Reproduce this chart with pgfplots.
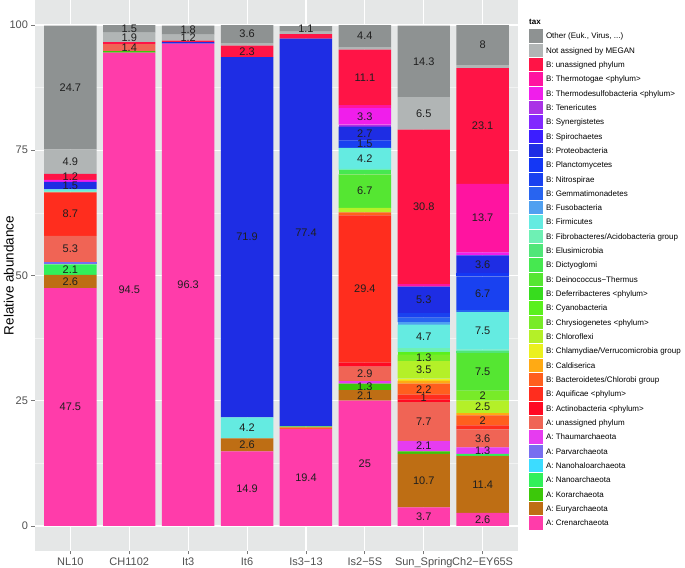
\documentclass[border=0pt]{standalone}
\usepackage{fontspec}
\setmainfont{Liberation Sans}
\usepackage{pgfplots}
\usepackage{pgfplotstable}
\pgfplotsset{compat=1.18}

\definecolor{panelbg}{RGB}{229,231,231}
\definecolor{minorgrid}{RGB}{242,243,243}
\definecolor{tickgray}{RGB}{120,120,120}
\definecolor{ticktext}{RGB}{80,80,80}
\definecolor{cOther}{RGB}{142,146,146}
\definecolor{cNotAss}{RGB}{177,181,181}
\definecolor{cBunas}{RGB}{255,20,70}
\definecolor{cThtoga}{RGB}{255,20,160}
\definecolor{cThdes}{RGB}{240,30,235}
\definecolor{cTener}{RGB}{170,50,230}
\definecolor{cSynerg}{RGB}{130,40,255}
\definecolor{cSpiro}{RGB}{60,30,255}
\definecolor{cProteo}{RGB}{30,45,228}
\definecolor{cPlancto}{RGB}{20,55,245}
\definecolor{cNitro}{RGB}{25,65,240}
\definecolor{cGemma}{RGB}{40,100,240}
\definecolor{cFuso}{RGB}{80,160,240}
\definecolor{cFirmi}{RGB}{100,235,225}
\definecolor{cFibro}{RGB}{110,240,180}
\definecolor{cElusi}{RGB}{80,230,120}
\definecolor{cDicty}{RGB}{70,232,80}
\definecolor{cDeino}{RGB}{85,230,50}
\definecolor{cDeferr}{RGB}{55,220,30}
\definecolor{cCyano}{RGB}{90,240,30}
\definecolor{cChrysio}{RGB}{120,235,40}
\definecolor{cChlorof}{RGB}{180,240,40}
\definecolor{cChlam}{RGB}{235,240,30}
\definecolor{cCaldis}{RGB}{255,170,20}
\definecolor{cBacter}{RGB}{255,95,30}
\definecolor{cAquif}{RGB}{255,45,30}
\definecolor{cActino}{RGB}{255,10,35}
\definecolor{cAunas}{RGB}{240,100,85}
\definecolor{cThaum}{RGB}{230,60,240}
\definecolor{cParv}{RGB}{120,110,240}
\definecolor{cNanoh}{RGB}{60,220,255}
\definecolor{cNano}{RGB}{50,240,90}
\definecolor{cKor}{RGB}{60,200,10}
\definecolor{cEury}{RGB}{190,110,20}
\definecolor{cCren}{RGB}{255,60,170}

% rows = taxa, columns = samples (NL10, CH1102, It3, It6, Is3-13, Is2-5S, Sun_Spring, Ch2-EY65S)
\pgfplotstableread{
tax NL10 CH1102 It3 It6 Is313 Is25S Sun Ch2
s 1 2 3 4 5 6 7 8
Cren 47.5 94.5 96.3 14.9 19.4 25 3.7 2.6
Eury 2.6 0 0 2.6 0 2.1 10.7 11.4
Kor 0 0.3 0 0 0 1.3 0.5 0
Nano 2.1 0 0 0 0 0 0 0.4
Nanoh 0 0 0 0 0 0 0 0
Parv 0.4 0 0 0 0 0 0 0
Thaum 0 0 0 0 0 0.5 2.1 1.3
Aunas 5.3 1.4 0 0 0 2.9 7.7 3.6
Actino 0 0 0 0 0 0.8 0.5 0
Aquif 8.7 0 0 0 0 29.4 1.0 0.8
Bacter 0 0 0 0 0.3 0.6 2.2 2.0
Caldis 0 0 0 0 0 0 0.6 0.4
Chlam 0 0 0 0 0 0 0.4 0
Chlorof 0 0 0 0 0 0.9 3.5 2.5
Chrysio 0 0 0 0 0 0 1.3 2.0
Cyano 0 0 0 0 0 0 0.5 0
Deferr 0 0 0 0 0 0 0 0
Deino 0 0 0 0 0.2 6.7 0 7.5
Dicty 0 0 0 0 0 0.8 0 0
Elusi 0 0 0 0 0 0 0 0.4
Fibro 0.2 0 0 0 0 0.3 0.8 0.3
Firmi 0.4 0 0 4.2 0 4.2 4.7 7.5
Fuso 0 0 0 0 0 0 0.5 0
Gemma 0 0 0 0 0 0 0.9 0.4
Nitro 0 0 0 0 0 1.5 0.9 6.7
Plancto 0 0 0 0 0 0 0 0.6
Proteo 1.5 0 0.3 71.9 77.4 2.7 5.3 3.6
Spiro 0 0 0 0 0 0 0 0
Synerg 0 0 0 0 0 0 0 0
Tener 0 0 0 0 0 0.4 0 0
Thdes 0.4 0 0 0 0 3.3 0 0.6
Thtoga 0 0 0 0 0 0.6 0.5 13.7
Bunas 1.2 0.4 0.3 2.3 0.9 11.1 30.8 23.1
NotAss 4.9 1.9 1.2 0.5 0.5 0.5 6.5 0.6
Other 24.7 1.5 1.8 3.6 1.1 4.4 14.3 8.0
}\raw
\pgfplotstabletranspose[colnames from=tax]{\data}{\raw}

% value labels: sample position, middle of segment, text
\pgfplotstableread{
x y l
1 23.75 47.5
1 48.8 2.6
1 51.15 2.1
1 55.25 5.3
1 62.25 8.7
1 67.95 1.5
1 69.7 1.2
1 72.75 4.9
1 87.55 24.7
2 47.25 94.5
2 95.5 1.4
2 97.55 1.9
2 99.25 1.5
3 48.15 96.3
3 97.5 1.2
3 99.0 1.8
4 7.45 14.9
4 16.2 2.6
4 19.6 4.2
4 57.65 71.9
4 94.75 2.3
4 98.2 3.6
5 9.7 19.4
5 58.6 77.4
5 99.25 1.1
6 12.5 25
6 26.05 2.1
6 27.75 1.3
6 30.35 2.9
6 47.3 29.4
6 66.85 6.7
6 73.4 4.2
6 76.25 1.5
6 78.35 2.7
6 81.75 3.3
6 89.55 11.1
6 97.8 4.4
7 1.85 3.7
7 9.05 10.7
7 15.95 2.1
7 20.85 7.7
7 25.7 1
7 27.3 2.2
7 31.15 3.5
7 33.55 1.3
7 37.85 4.7
7 45.15 5.3
7 63.7 30.8
7 82.35 6.5
7 92.75 14.3
8 1.3 2.6
8 8.3 11.4
8 15.05 1.3
8 17.5 3.6
8 21.1 2
8 23.75 2.5
8 26.0 2
8 30.75 7.5
8 38.95 7.5
8 46.45 6.7
8 52.2 3.6
8 61.45 13.7
8 79.85 23.1
8 96.0 8
}\labs

\newcommand{\seg}[3]{\addplot[fill=#2,draw=none] table[x=s,y=#1]{\data};\addlegendentry{#3}}

\begin{document}
\begin{tikzpicture}
\begin{axis}[
  at={(0,0)}, anchor=south west,
  width=483bp, height=551bp, scale only axis,
  xmin=0.4, xmax=8.6, ymin=-5, ymax=105,
  ybar stacked, bar width=0.89,
  axis background/.style={fill=panelbg},
  axis line style={draw=none},
  xtick={1,...,8},
  xticklabels={NL10,CH1102,It3,It6,Is3−13,Is2−5S,Sun\_Spring,Ch2−EY65S},
  ytick={0,25,50,75,100},
  minor ytick={12.5,37.5,62.5,87.5},
  xmajorgrids, ymajorgrids, yminorgrids,
  major grid style={white, line width=1.1bp},
  minor grid style={minorgrid, line width=0.55bp},
  tick align=outside, major tick length=3.5bp, minor tick length=0pt,
  xtick pos=left, ytick pos=left,
  tick style={tickgray, line width=0.8bp},
  ticklabel style={font=\fontsize{11bp}{13bp}\selectfont, text=ticktext},
  /pgf/number format/assume math mode=true,
  ylabel={Relative abundance},
  ylabel style={at={(axis description cs:-0.0435,0.5)}, anchor=south, inner sep=0pt, font=\fontsize{13.5bp}{15bp}\selectfont},
  legend cell align=left,
  reverse legend,
  legend image code/.code={\fill[#1] (0bp,-6.66bp) rectangle (14bp,6.66bp);},
  legend style={at={(axis description cs:1,1)}, anchor=north west, xshift=11bp, yshift=-14.5bp,
    draw=none, fill=none, inner sep=0pt, outer sep=0pt, row sep=0pt, column sep=0pt,
    font=\fontsize{8bp}{9.5bp}\selectfont,
    nodes={inner xsep=3bp, inner ysep=0pt, text height=10bp, text depth=4.32bp, anchor=west}},
]
\seg{Cren}{cCren}{A: Crenarchaeota}
\seg{Eury}{cEury}{A: Euryarchaeota}
\seg{Kor}{cKor}{A: Korarchaeota}
\seg{Nano}{cNano}{A: Nanoarchaeota}
\seg{Nanoh}{cNanoh}{A: Nanohaloarchaeota}
\seg{Parv}{cParv}{A: Parvarchaeota}
\seg{Thaum}{cThaum}{A: Thaumarchaeota}
\seg{Aunas}{cAunas}{A: unassigned phylum}
\seg{Actino}{cActino}{B: Actinobacteria <phylum>}
\seg{Aquif}{cAquif}{B: Aquificae <phylum>}
\seg{Bacter}{cBacter}{B: Bacteroidetes/Chlorobi group}
\seg{Caldis}{cCaldis}{B: Caldiserica}
\seg{Chlam}{cChlam}{B: Chlamydiae/Verrucomicrobia group}
\seg{Chlorof}{cChlorof}{B: Chloroflexi}
\seg{Chrysio}{cChrysio}{B: Chrysiogenetes <phylum>}
\seg{Cyano}{cCyano}{B: Cyanobacteria}
\seg{Deferr}{cDeferr}{B: Deferribacteres <phylum>}
\seg{Deino}{cDeino}{B: Deinococcus−Thermus}
\seg{Dicty}{cDicty}{B: Dictyoglomi}
\seg{Elusi}{cElusi}{B: Elusimicrobia}
\seg{Fibro}{cFibro}{B: Fibrobacteres/Acidobacteria group}
\seg{Firmi}{cFirmi}{B: Firmicutes}
\seg{Fuso}{cFuso}{B: Fusobacteria}
\seg{Gemma}{cGemma}{B: Gemmatimonadetes}
\seg{Nitro}{cNitro}{B: Nitrospirae}
\seg{Plancto}{cPlancto}{B: Planctomycetes}
\seg{Proteo}{cProteo}{B: Proteobacteria}
\seg{Spiro}{cSpiro}{B: Spirochaetes}
\seg{Synerg}{cSynerg}{B: Synergistetes}
\seg{Tener}{cTener}{B: Tenericutes}
\seg{Thdes}{cThdes}{B: Thermodesulfobacteria <phylum>}
\seg{Thtoga}{cThtoga}{B: Thermotogae <phylum>}
\seg{Bunas}{cBunas}{B: unassigned phylum}
\seg{NotAss}{cNotAss}{Not assigned by MEGAN}
\seg{Other}{cOther}{Other (Euk., Virus, ...)}
\addlegendimage{empty legend}
\addlegendentry{\hspace*{-17bp}\textbf{tax}}
\end{axis}
\begin{axis}[
  at={(0,0)}, anchor=south west,
  width=483bp, height=551bp, scale only axis,
  xmin=0.4, xmax=8.6, ymin=-5, ymax=105,
  hide axis, clip=false,
]
\addplot[draw=none, mark=none, nodes near coords, point meta=explicit symbolic,
  nodes near coords align={anchor=center},
  every node near coord/.append style={anchor=center, inner sep=0pt, text=black!88, font=\fontsize{11bp}{13bp}\selectfont}]
  table[x=x, y=y, meta=l]{\labs};
\end{axis}
\pgfresetboundingbox
\useasboundingbox (-35bp,-17bp) rectangle (650bp,551bp);
\end{tikzpicture}
\end{document}
